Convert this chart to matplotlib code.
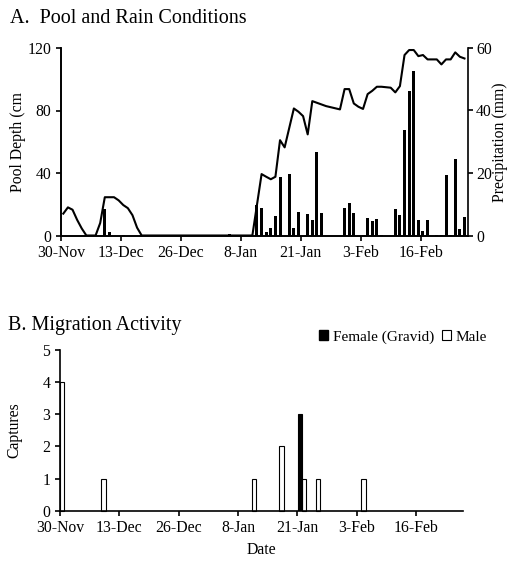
import matplotlib
matplotlib.use('Agg')
import matplotlib.pyplot as plt
from matplotlib.patches import Patch
import numpy as np

plt.rcParams['font.family'] = ['Liberation Serif', 'DejaVu Serif']
plt.rcParams['font.size'] = 11.3

# day 0 = 30-Nov
tick_days = [0, 13, 26, 39, 52, 65, 78]
tick_labels = ['30-Nov', '13-Dec', '26-Dec', '8-Jan', '21-Jan', '3-Feb', '16-Feb']

# pool depth (cm), read at these days
pool_day = [0, 1, 2, 3, 4, 5, 7, 8, 9, 11, 12, 13, 14, 15, 16, 17,
            41, 43, 44, 45, 46, 47, 48, 50, 51, 52, 53, 54, 57, 60,
            61, 62, 63, 64, 65, 66, 67, 68, 69, 71, 72, 73, 74, 75, 76,
            77, 78, 79, 81, 82, 83, 84, 85, 86, 87]
pool_depth = [14, 18, 16.5, 10, 4.5, 0, 0, 8, 24.5, 24.5, 22.5, 19.5, 17.5, 13, 5, 0,
              0, 39.3, 37.6, 36, 37.6, 61, 56.4, 81.3, 79.2, 76.4, 64.7, 86, 82.8, 80.7,
              93.7, 93.7, 84.5, 82.4, 81, 90.5, 92.6, 95.2, 95.2, 94.6, 91.6, 95.6, 115.5, 118.7, 118.7,
              114.8, 115.5, 112.7, 112.7, 109.5, 112.7, 112.7, 117.2, 114.4, 113.3]

# daily precipitation (mm)
rain_day = [9, 10, 13, 19, 36, 39,
            42, 43, 44, 45, 46, 47, 49, 50, 51, 53, 54, 55, 56,
            61, 62, 63, 65, 66, 67, 68, 69,
            72, 73, 74, 75, 76, 77, 78, 79, 81, 82, 83, 84, 85, 86, 87]
rain_mm = [8.5, 1.0, 0.3, 0.2, 0.4, 0.3,
           9.8, 8.9, 1.1, 2.5, 6.3, 18.8, 19.8, 2.5, 7.5, 6.8, 5.1, 26.6, 7.1,
           8.9, 10.5, 7.3, 0.3, 5.7, 4.8, 5.4, 0.2,
           8.5, 6.7, 33.8, 46.2, 52.7, 4.9, 1.4, 4.9, 0.3, 0.3, 19.3, 0.2, 24.4, 2.1, 5.8]

# captures
male_day = [0, 9, 42, 48, 53, 56, 66]
male_n = [4, 1, 1, 2, 1, 1, 1]
female_day = [52]
female_n = [3]

xmax = 88.2

fig = plt.figure(figsize=(5.13, 5.68), dpi=100)

# ---- A. pool and rain ----
ax = fig.add_axes([61/513, 1-235.5/568, 406.7/513, 187.5/568])
ax2 = ax.twinx()
ax2.bar(np.array(rain_day) + 0.5, rain_mm, width=0.65, color='black', zorder=2)
ax.plot(np.array(pool_day) + 0.5, pool_depth, color='black', lw=1.5, zorder=3)
ax.set_zorder(ax2.get_zorder() + 1)
ax.patch.set_visible(False)

ax.set_xlim(0, xmax)
ax.set_ylim(0, 120)
ax2.set_ylim(0, 60)
ax.set_yticks([0, 40, 80, 120])
ax2.set_yticks([0, 20, 40, 60])
ax.set_xticks(tick_days)
ax.set_xticklabels(tick_labels)
for a in (ax, ax2):
    a.spines['top'].set_visible(False)
    for s in a.spines.values():
        s.set_linewidth(1.2)
    a.tick_params(direction='out', length=3.5, width=1.2, pad=3.5)
ax2.tick_params(axis='y', pad=2.5)
ax.set_ylabel('Pool Depth (cm', labelpad=1)
ax2.set_ylabel('Precipitation (mm)', labelpad=0)
ax.spines['right'].set_visible(False)
fig.text(10/513, 1-23.3/568, 'A.  Pool and Rain Conditions', fontsize=14.5, va='baseline')

# ---- B. migration ----
bx = fig.add_axes([60/513, 1-510.7/568, 402.7/513, 160.7/568])
bx.bar(np.array(male_day) + 0.5, male_n, width=0.95, color='white', edgecolor='black',
       linewidth=0.8, clip_on=False, zorder=2)
bx.bar(np.array(female_day) + 0.5, female_n, width=0.95, color='black', edgecolor='black',
       linewidth=0.8, zorder=2)
bx.set_xlim(0, xmax)
bx.set_ylim(0, 5)
bx.set_yticks([0, 1, 2, 3, 4, 5])
bx.set_xticks(tick_days)
bx.set_xticklabels(tick_labels)
bx.set_ylabel('Captures', labelpad=14)
bx.set_xlabel('Date', labelpad=4)
bx.spines['top'].set_visible(False)
bx.spines['right'].set_visible(False)
for s in bx.spines.values():
    s.set_linewidth(1.2)
bx.spines['bottom'].set_zorder(3)
bx.tick_params(direction='out', length=3.5, width=1.2, pad=3.5)
fig.text(8/513, 1-330/568, 'B. Migration Activity', fontsize=14.5, va='baseline')

handles = [Patch(facecolor='black', edgecolor='black'),
           Patch(facecolor='white', edgecolor='black', linewidth=0.8)]
fig.legend(handles, ['Female (Gravid)', 'Male'], loc='center',
           bbox_to_anchor=(403/513, 1-337/568), ncol=2, frameon=False,
           fontsize=11, handlelength=0.6, handleheight=0.6, handletextpad=0.3,
           columnspacing=0.5, borderpad=0)

fig.savefig('out.png', dpi=100)
